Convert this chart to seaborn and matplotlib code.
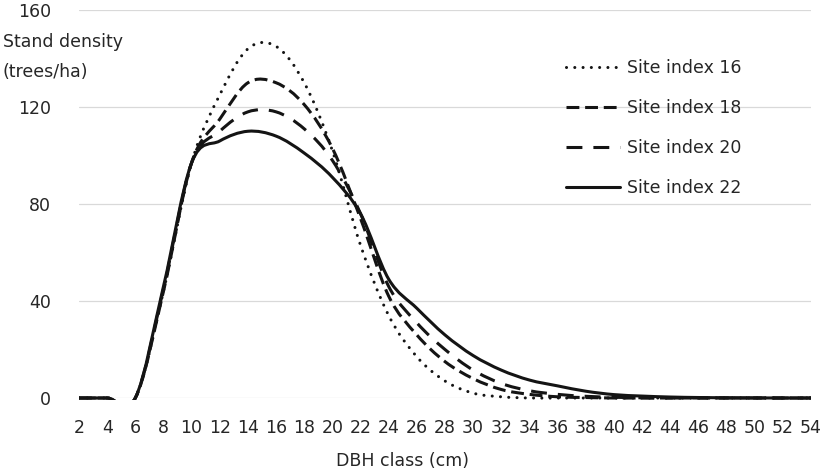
import numpy as np
import pandas as pd
import matplotlib
matplotlib.use("Agg")
import matplotlib.pyplot as plt
import seaborn as sns
from matplotlib.path import Path
from matplotlib.patches import PathPatch, Rectangle

# ---- data ----
dbh_classes = [2, 4, 6, 8, 10, 12, 14, 16, 18, 20, 22, 24, 26, 28,
               30, 32, 34, 36, 38, 40, 42, 44, 46, 48, 50, 52, 54]
series_names = ["Site index 16", "Site index 18", "Site index 20", "Site index 22"]
si16 = [0, 0, 0, 44, 97, 125, 144, 145, 130, 102, 63, 34, 17, 7,
        2, 0.5, 0, 0, 0, 0, 0, 0, 0, 0, 0, 0, 0]
si18 = [0, 0, 0, 44, 97, 115, 130, 130, 121, 103, 74, 42, 26, 15,
        8, 3.5, 1.5, 0.5, 0.2, 0, 0, 0, 0, 0, 0, 0, 0]
si20 = [0, 0, 0, 45, 97, 110, 118, 118, 111, 98, 76, 46, 31, 20,
        11.5, 6, 3, 1.5, 0.7, 0.3, 0.1, 0, 0, 0, 0, 0, 0]
si22 = [0, 0, 0, 46, 97, 106, 110, 108, 101, 91, 76, 49, 37, 26,
        17.5, 11.5, 7.4, 5, 2.8, 1.4, 0.8, 0.4, 0.2, 0.1, 0.05, 0, 0]
y_ticks = [0, 40, 80, 120, 160]

ink = "#141414"
txt = "#262626"
lw = 2.2
styles = {
    "Site index 16": dict(ls=(0, (0.01, 2.7)), cap="round"),
    "Site index 18": dict(ls=(0, (4.2, 1.9)), cap="butt"),
    "Site index 20": dict(ls=(0, (5.2, 3.6)), cap="butt"),
    "Site index 22": dict(ls="-", cap="butt"),
}

sns.set_theme(style="white")
plt.rcParams["font.family"] = ["DejaVu Sans"]
fs = 12.5

fig = plt.figure(figsize=(8.27, 4.71), dpi=100)
ax = fig.add_axes([79 / 827, 1 - 398 / 471, (811 - 79) / 827, (398 - 10) / 471])

values = {"Site index 16": si16, "Site index 18": si18,
          "Site index 20": si20, "Site index 22": si22}

lines = []
for name in series_names:
    d = pd.DataFrame({"DBH": dbh_classes, "density": values[name]})
    sns.lineplot(data=d, x="DBH", y="density", ax=ax, color=ink, lw=lw,
                 label=name, legend=False)
    ln = ax.lines[-1]
    ln.set_linestyle(styles[name]["ls"])
    ln.set_dash_capstyle(styles[name]["cap"])
    lines.append(ln)

ax.set_xlim(dbh_classes[0], dbh_classes[-1])
ax.set_ylim(0, 160)
ax.set_xticks(dbh_classes)
ax.set_xticklabels([str(v) for v in dbh_classes])
ax.set_yticks(y_ticks)
ax.set_yticklabels([str(v) for v in y_ticks])
ax.set_xlabel("")
ax.set_ylabel("")
for s in ax.spines.values():
    s.set_visible(False)
ax.grid(axis="y", color="#d9d9d9", lw=0.9)
ax.grid(axis="x", visible=False)
ax.tick_params(axis="both", length=0, labelsize=fs, colors=txt)
ax.tick_params(axis="x", pad=15)
ax.tick_params(axis="y", pad=20)

leg = ax.legend(handles=lines, labels=series_names, loc="upper left",
                bbox_to_anchor=(566 / 827, 1 - 59 / 471),
                bbox_transform=fig.transFigure, frameon=False, borderpad=0,
                borderaxespad=0, handlelength=3.1, handletextpad=0.4,
                labelspacing=1.27, fontsize=fs)
for t in leg.get_texts():
    t.set_color(txt)

# smoothed rendering of the seaborn lines (Excel-style smoothed line)
clip = Rectangle((0, -0.004), 1, 1.02, transform=ax.transAxes)
for ln in lines:
    xy = ln.get_xydata()
    n = len(xy)
    verts = [tuple(xy[0])]
    codes = [Path.MOVETO]
    for i in range(n - 1):
        p0 = xy[max(i - 1, 0)]
        p1 = xy[i]
        p2 = xy[i + 1]
        p3 = xy[min(i + 2, n - 1)]
        c1 = p1 + (p2 - p0) / 6.0
        c2 = p2 - (p3 - p1) / 6.0
        verts += [tuple(c1), tuple(c2), tuple(p2)]
        codes += [Path.CURVE4] * 3
    name = ln.get_label()
    patch = PathPatch(Path(verts, codes), fill=False, edgecolor=ink, lw=lw)
    patch.set_linestyle(styles[name]["ls"])
    patch.set_capstyle(styles[name]["cap"])
    patch.set_joinstyle("round")
    ax.add_patch(patch)
    patch.set_clip_path(clip)
    ln.set_visible(False)

fig.text(3 / 827, 1 - 57 / 471, "Stand density\n(trees/ha)", ha="left",
         va="center", fontsize=fs, linespacing=1.85, color=txt)
fig.text(403 / 827, 1 - 461 / 471, "DBH class (cm)", ha="center",
         va="center", fontsize=fs, color=txt)

fig.savefig("out.png", dpi=100, facecolor="white")
